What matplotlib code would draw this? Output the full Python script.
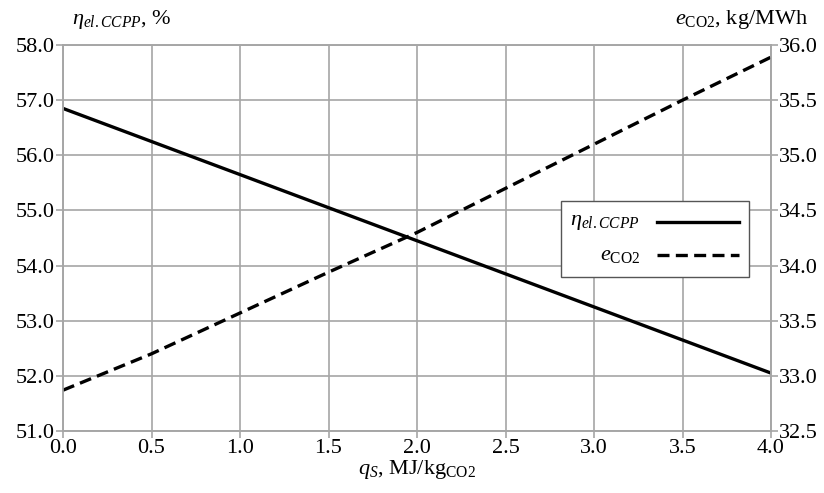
import matplotlib.pyplot as plt
from matplotlib.lines import Line2D
from matplotlib.patches import Rectangle
import numpy as np

plt.rcParams['font.family'] = ['Liberation Serif', 'DejaVu Serif']
plt.rcParams['mathtext.fontset'] = 'custom'
plt.rcParams['mathtext.rm'] = 'Liberation Serif'
plt.rcParams['mathtext.it'] = 'Liberation Serif:italic'

# Data
q_s = [0.0, 0.5, 1.0, 1.5, 2.0, 2.5, 3.0, 3.5, 4.0]
eta = [56.85, 56.25, 55.65, 55.05, 54.45, 53.85, 53.25, 52.65, 52.05]
e_co2 = [32.87, 33.20, 33.57, 33.94, 34.30, 34.70, 35.10, 35.50, 35.89]
labels = [r'$\eta_{el.CCPP}$', r'$e_{\mathrm{CO2}}$']

fig = plt.figure(figsize=(8.24, 4.93), dpi=100)
ax = fig.add_axes([63 / 824, 62 / 493, 708 / 824, 386 / 493])
ax2 = ax.twinx()

grid_c = '#a6a6a6'
fs = 16
dash = (0, (3.6, 1.9))

ax.plot(q_s, eta, color='black', lw=2.4)
ax2.plot(q_s, e_co2, color='black', lw=2.4, ls=dash)

ax.set_xlim(0, 4)
ax.set_ylim(51, 58)
ax2.set_ylim(32.5, 36)
ax.set_xticks(np.arange(0, 4.01, 0.5))
ax.set_yticks(np.arange(51, 58.01, 1))
ax2.set_yticks(np.arange(32.5, 36.01, 0.5))
ax.xaxis.set_major_formatter(plt.FormatStrFormatter('%.1f'))
ax.yaxis.set_major_formatter(plt.FormatStrFormatter('%.1f'))
ax2.yaxis.set_major_formatter(plt.FormatStrFormatter('%.1f'))

ax.grid(True, color=grid_c, lw=1.2)
for a in (ax, ax2):
    for s in a.spines.values():
        s.set_color(grid_c)
        s.set_linewidth(1.2)
    a.tick_params(labelsize=fs, color=grid_c, width=1.2, length=5, pad=1)

ax.text(0.013, 1.035, r'$\eta_{el.CCPP}$, %', transform=ax.transAxes,
        fontsize=fs, ha='left', va='bottom')
ax2.text(1.052, 1.035, r'$e_{\mathrm{CO2}}$, kg/MWh', transform=ax.transAxes,
         fontsize=fs, ha='right', va='bottom')
ax.set_xlabel(r'$q_S$, MJ/kg$_{\mathrm{CO2}}$', fontsize=fs, labelpad=0)

# legend box: labels right aligned, samples on the right
T = ax2.transAxes
ax2.add_patch(Rectangle((0.703, 0.399), 0.266, 0.197, transform=T,
                        facecolor='white', edgecolor='#555555', lw=1.0, zorder=5))
for y, lab, ls in [(0.541, labels[0], '-'), (0.455, labels[1], dash)]:
    ax2.text(0.815, y, lab, transform=T, fontsize=fs, ha='right', va='center', zorder=6)
    ax2.add_line(Line2D([0.839, 0.955], [y, y], transform=T, color='black',
                        lw=2.4, ls=ls, zorder=6))

fig.savefig('out.png', dpi=100)
